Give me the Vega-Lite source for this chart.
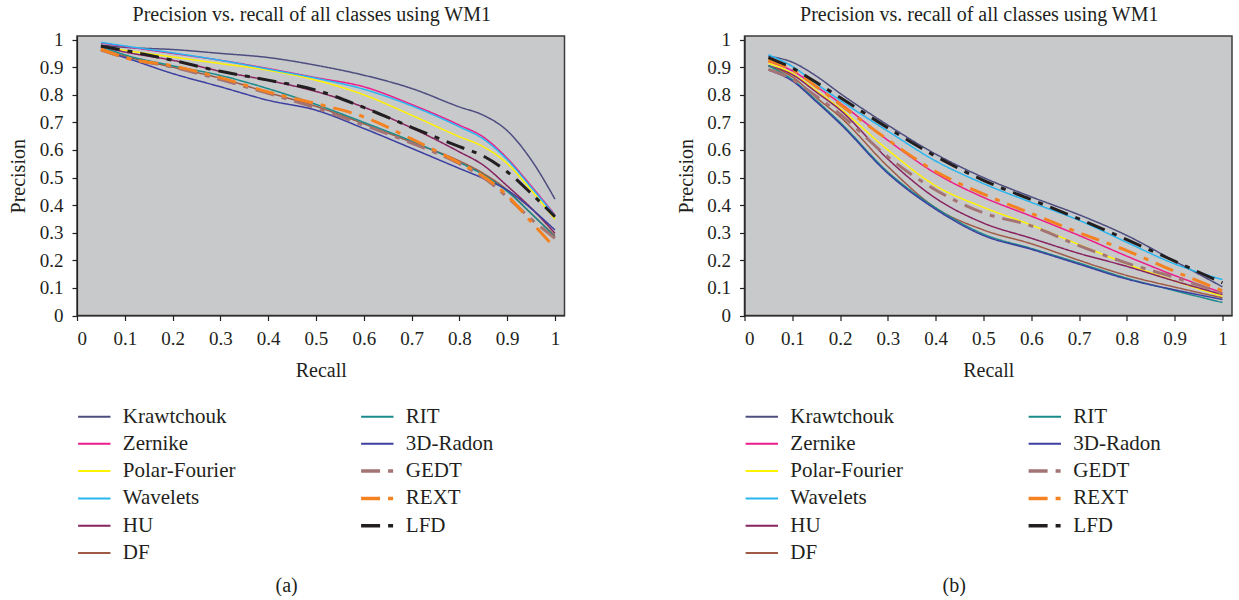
{
  "$schema": "https://vega.github.io/schema/vega-lite/v6.json",
  "background": "white",
  "padding": {"left": 8, "top": 3, "right": 0, "bottom": 0},
  "spacing": 109.5,
  "config": {
    "font": "Liberation Serif",
    "view": {"fill": "#c8c9cb", "stroke": "#3c3c3c", "strokeWidth": 1.5},
    "axis": {"grid": false, "domainColor": "#231f20", "domainWidth": 1.2, "tickColor": "#231f20", "tickSize": 5, "tickWidth": 1.2, "labelFont": "Liberation Serif", "labelFontSize": 19, "labelColor": "#231f20", "labelPadding": 9, "titleFont": "Liberation Serif", "titleFontSize": 20, "titleFontWeight": "normal", "titleColor": "#231f20"},
    "legend": {"labelFont": "Liberation Serif", "labelFontSize": 21, "labelColor": "#231f20", "symbolType": "stroke", "symbolSize": 1050, "symbolStrokeWidth": 2.5, "labelOffset": 18, "rowPadding": 5.3, "columnPadding": 118, "padding": 0, "labelLimit": 300},
    "title": {"font": "Liberation Serif", "fontSize": 20, "fontWeight": "normal", "color": "#231f20"}
  },
  "datasets": {
    "a": [
      {"r": 0.05, "Krawtchouk": 0.98, "Zernike": 0.988, "Polar-Fourier": 0.975, "Wavelets": 0.99, "HU": 0.975, "DF": 0.968, "RIT": 0.975, "3D-Radon": 0.961, "GEDT": 0.962, "REXT": 0.965, "LFD": 0.976},
      {"r": 0.1, "Krawtchouk": 0.972, "Zernike": 0.975, "Polar-Fourier": 0.961, "Wavelets": 0.977, "HU": 0.955, "DF": 0.94, "RIT": 0.945, "3D-Radon": 0.935, "GEDT": 0.935, "REXT": 0.935, "LFD": 0.961},
      {"r": 0.2, "Krawtchouk": 0.964, "Zernike": 0.95, "Polar-Fourier": 0.937, "Wavelets": 0.952, "HU": 0.925, "DF": 0.9, "RIT": 0.905, "3D-Radon": 0.877, "GEDT": 0.9, "REXT": 0.905, "LFD": 0.925},
      {"r": 0.3, "Krawtchouk": 0.95, "Zernike": 0.925, "Polar-Fourier": 0.913, "Wavelets": 0.925, "HU": 0.885, "DF": 0.86, "RIT": 0.87, "3D-Radon": 0.829, "GEDT": 0.855, "REXT": 0.862, "LFD": 0.885},
      {"r": 0.4, "Krawtchouk": 0.935, "Zernike": 0.895, "Polar-Fourier": 0.889, "Wavelets": 0.893, "HU": 0.852, "DF": 0.808, "RIT": 0.822, "3D-Radon": 0.78, "GEDT": 0.805, "REXT": 0.81, "LFD": 0.853},
      {"r": 0.5, "Krawtchouk": 0.907, "Zernike": 0.862, "Polar-Fourier": 0.853, "Wavelets": 0.86, "HU": 0.812, "DF": 0.758, "RIT": 0.765, "3D-Radon": 0.744, "GEDT": 0.752, "REXT": 0.768, "LFD": 0.817},
      {"r": 0.6, "Krawtchouk": 0.871, "Zernike": 0.829, "Polar-Fourier": 0.8, "Wavelets": 0.82, "HU": 0.755, "DF": 0.695, "RIT": 0.7, "3D-Radon": 0.678, "GEDT": 0.69, "REXT": 0.72, "LFD": 0.754},
      {"r": 0.7, "Krawtchouk": 0.823, "Zernike": 0.765, "Polar-Fourier": 0.726, "Wavelets": 0.76, "HU": 0.68, "DF": 0.628, "RIT": 0.632, "3D-Radon": 0.606, "GEDT": 0.625, "REXT": 0.64, "LFD": 0.682},
      {"r": 0.8, "Krawtchouk": 0.756, "Zernike": 0.69, "Polar-Fourier": 0.648, "Wavelets": 0.684, "HU": 0.593, "DF": 0.56, "RIT": 0.555, "3D-Radon": 0.533, "GEDT": 0.55, "REXT": 0.553, "LFD": 0.612},
      {"r": 0.85, "Krawtchouk": 0.726, "Zernike": 0.647, "Polar-Fourier": 0.612, "Wavelets": 0.64, "HU": 0.545, "DF": 0.515, "RIT": 0.51, "3D-Radon": 0.497, "GEDT": 0.5, "REXT": 0.505, "LFD": 0.578},
      {"r": 0.9, "Krawtchouk": 0.67, "Zernike": 0.57, "Polar-Fourier": 0.551, "Wavelets": 0.565, "HU": 0.47, "DF": 0.455, "RIT": 0.45, "3D-Radon": 0.455, "GEDT": 0.43, "REXT": 0.435, "LFD": 0.521},
      {"r": 0.95, "Krawtchouk": 0.565, "Zernike": 0.47, "Polar-Fourier": 0.455, "Wavelets": 0.465, "HU": 0.39, "DF": 0.37, "RIT": 0.37, "3D-Radon": 0.388, "GEDT": 0.35, "REXT": 0.34, "LFD": 0.443},
      {"r": 1.0, "Krawtchouk": 0.422, "Zernike": 0.365, "Polar-Fourier": 0.349, "Wavelets": 0.362, "HU": 0.298, "DF": 0.29, "RIT": 0.285, "3D-Radon": 0.31, "GEDT": 0.28, "REXT": 0.245, "LFD": 0.358}
    ],
    "b": [
      {"r": 0.05, "Krawtchouk": 0.94, "Zernike": 0.92, "Polar-Fourier": 0.915, "Wavelets": 0.945, "HU": 0.905, "DF": 0.905, "RIT": 0.905, "3D-Radon": 0.89, "GEDT": 0.892, "REXT": 0.925, "LFD": 0.935},
      {"r": 0.1, "Krawtchouk": 0.918, "Zernike": 0.887, "Polar-Fourier": 0.877, "Wavelets": 0.903, "HU": 0.873, "DF": 0.865, "RIT": 0.855, "3D-Radon": 0.85, "GEDT": 0.856, "REXT": 0.89, "LFD": 0.897},
      {"r": 0.15, "Krawtchouk": 0.868, "Zernike": 0.83, "Polar-Fourier": 0.815, "Wavelets": 0.84, "HU": 0.81, "DF": 0.79, "RIT": 0.78, "3D-Radon": 0.775, "GEDT": 0.795, "REXT": 0.83, "LFD": 0.845},
      {"r": 0.2, "Krawtchouk": 0.805, "Zernike": 0.77, "Polar-Fourier": 0.75, "Wavelets": 0.78, "HU": 0.745, "DF": 0.72, "RIT": 0.7, "3D-Radon": 0.695, "GEDT": 0.73, "REXT": 0.765, "LFD": 0.79},
      {"r": 0.3, "Krawtchouk": 0.69, "Zernike": 0.635, "Polar-Fourier": 0.6, "Wavelets": 0.668, "HU": 0.567, "DF": 0.54, "RIT": 0.52, "3D-Radon": 0.515, "GEDT": 0.575, "REXT": 0.637, "LFD": 0.68},
      {"r": 0.4, "Krawtchouk": 0.585, "Zernike": 0.515, "Polar-Fourier": 0.47, "Wavelets": 0.56, "HU": 0.425, "DF": 0.39, "RIT": 0.39, "3D-Radon": 0.385, "GEDT": 0.455, "REXT": 0.522, "LFD": 0.577},
      {"r": 0.5, "Krawtchouk": 0.5, "Zernike": 0.428, "Polar-Fourier": 0.392, "Wavelets": 0.478, "HU": 0.335, "DF": 0.31, "RIT": 0.295, "3D-Radon": 0.29, "GEDT": 0.372, "REXT": 0.44, "LFD": 0.49},
      {"r": 0.6, "Krawtchouk": 0.43, "Zernike": 0.36, "Polar-Fourier": 0.328, "Wavelets": 0.41, "HU": 0.28, "DF": 0.26, "RIT": 0.243, "3D-Radon": 0.24, "GEDT": 0.325, "REXT": 0.37, "LFD": 0.42},
      {"r": 0.7, "Krawtchouk": 0.365, "Zernike": 0.29, "Polar-Fourier": 0.257, "Wavelets": 0.345, "HU": 0.225, "DF": 0.2, "RIT": 0.19, "3D-Radon": 0.186, "GEDT": 0.253, "REXT": 0.3, "LFD": 0.35},
      {"r": 0.8, "Krawtchouk": 0.29, "Zernike": 0.215, "Polar-Fourier": 0.187, "Wavelets": 0.265, "HU": 0.178, "DF": 0.145, "RIT": 0.135, "3D-Radon": 0.132, "GEDT": 0.19, "REXT": 0.235, "LFD": 0.275},
      {"r": 0.9, "Krawtchouk": 0.197, "Zernike": 0.145, "Polar-Fourier": 0.125, "Wavelets": 0.187, "HU": 0.125, "DF": 0.103, "RIT": 0.09, "3D-Radon": 0.093, "GEDT": 0.138, "REXT": 0.16, "LFD": 0.197},
      {"r": 1.0, "Krawtchouk": 0.104, "Zernike": 0.082, "Polar-Fourier": 0.07, "Wavelets": 0.13, "HU": 0.076, "DF": 0.064, "RIT": 0.047, "3D-Radon": 0.058, "GEDT": 0.08, "REXT": 0.09, "LFD": 0.118}
    ]
  },
  "resolve": {"scale": {"color": "independent", "strokeDash": "independent"}, "legend": {"color": "independent", "strokeDash": "independent"}},
  "hconcat": [
    {
      "title": {"text": "(a)", "orient": "bottom", "anchor": "middle", "offset": 12, "fontSize": 20},
      "resolve": {"legend": {"color": "independent", "strokeDash": "independent"}},
      "vconcat": [
        {
          "width": 487.5,
          "height": 279.5,
          "title": {"text": "Precision vs. recall of all classes using WM1", "frame": "group", "anchor": "middle", "dx": -9, "offset": 6},
          "data": {"name": "a"},
          "transform": [{"fold": ["Krawtchouk", "Zernike", "Polar-Fourier", "Wavelets", "HU", "DF", "RIT", "3D-Radon", "GEDT", "REXT", "LFD"], "as": ["method", "precision"]}],
          "encoding": {
            "x": {"field": "r", "type": "quantitative", "scale": {"domain": [0, 1.02], "nice": false, "zero": false}, "axis": {"title": "Recall", "values": [0, 0.1, 0.2, 0.3, 0.4, 0.5, 0.6, 0.7, 0.8, 0.9, 1], "format": "~g", "titlePadding": 12}},
            "y": {"field": "precision", "type": "quantitative", "scale": {"domain": [0, 1.013], "nice": false}, "axis": {"title": "Precision", "values": [0, 0.1, 0.2, 0.3, 0.4, 0.5, 0.6, 0.7, 0.8, 0.9, 1], "format": "~g", "titlePadding": 10.5}},
            "color": {"field": "method", "type": "nominal", "scale": {"domain": ["Krawtchouk", "Zernike", "Polar-Fourier", "Wavelets", "HU", "DF", "RIT", "3D-Radon", "GEDT", "REXT", "LFD"], "range": ["#4e4d80", "#ec1c8c", "#fff200", "#29b6f0", "#872360", "#9e5a45", "#1b8a8a", "#3b3fa0", "#a47474", "#f58220", "#231f20"]}, "legend": {"title": null, "orient": "none", "legendX": 6.8, "legendY": 370, "columns": 2, "encode": {"symbols": {"update": {"strokeWidth": {"signal": "indexof(['GEDT','REXT','LFD'], datum.value) >= 0 ? 3.5 : 2"}}}}}},
            "strokeDash": {"field": "method", "type": "nominal", "scale": {"domain": ["Krawtchouk", "Zernike", "Polar-Fourier", "Wavelets", "HU", "DF", "RIT", "3D-Radon", "GEDT", "REXT", "LFD"], "range": [[1, 0], [1, 0], [1, 0], [1, 0], [1, 0], [1, 0], [1, 0], [1, 0], [19, 8, 5, 8], [19, 8, 5, 8], [19, 8, 5, 8]]}, "legend": {"title": null, "orient": "none", "legendX": 6.8, "legendY": 370, "columns": 2, "encode": {"symbols": {"update": {"strokeWidth": {"signal": "indexof(['GEDT','REXT','LFD'], datum.value) >= 0 ? 3.5 : 2"}}}}}}
          },
          "layer": [
            {"transform": [{"filter": {"field": "method", "oneOf": ["Krawtchouk", "Zernike", "Polar-Fourier", "Wavelets", "HU", "DF", "RIT", "3D-Radon"]}}], "mark": {"type": "line", "strokeWidth": 1.5, "interpolate": "monotone"}},
            {"transform": [{"filter": {"field": "method", "oneOf": ["GEDT", "REXT", "LFD"]}}], "mark": {"type": "line", "strokeWidth": 3, "interpolate": "monotone"}}
          ]
        }
      ]
    },
    {
      "title": {"text": "(b)", "orient": "bottom", "anchor": "middle", "offset": 12, "fontSize": 20},
      "resolve": {"legend": {"color": "independent", "strokeDash": "independent"}},
      "vconcat": [
        {
          "width": 487.5,
          "height": 279.5,
          "title": {"text": "Precision vs. recall of all classes using WM1", "frame": "group", "anchor": "middle", "dx": -9, "offset": 6},
          "data": {"name": "b"},
          "transform": [{"fold": ["Krawtchouk", "Zernike", "Polar-Fourier", "Wavelets", "HU", "DF", "RIT", "3D-Radon", "GEDT", "REXT", "LFD"], "as": ["method", "precision"]}],
          "encoding": {
            "x": {"field": "r", "type": "quantitative", "scale": {"domain": [0, 1.02], "nice": false, "zero": false}, "axis": {"title": "Recall", "values": [0, 0.1, 0.2, 0.3, 0.4, 0.5, 0.6, 0.7, 0.8, 0.9, 1], "format": "~g", "titlePadding": 12}},
            "y": {"field": "precision", "type": "quantitative", "scale": {"domain": [0, 1.013], "nice": false}, "axis": {"title": "Precision", "values": [0, 0.1, 0.2, 0.3, 0.4, 0.5, 0.6, 0.7, 0.8, 0.9, 1], "format": "~g", "titlePadding": 10.5}},
            "color": {"field": "method", "type": "nominal", "scale": {"domain": ["Krawtchouk", "Zernike", "Polar-Fourier", "Wavelets", "HU", "DF", "RIT", "3D-Radon", "GEDT", "REXT", "LFD"], "range": ["#4e4d80", "#ec1c8c", "#fff200", "#29b6f0", "#872360", "#9e5a45", "#1b8a8a", "#3b3fa0", "#a47474", "#f58220", "#231f20"]}, "legend": {"title": null, "orient": "none", "legendX": 6.8, "legendY": 370, "columns": 2, "encode": {"symbols": {"update": {"strokeWidth": {"signal": "indexof(['GEDT','REXT','LFD'], datum.value) >= 0 ? 3.5 : 2"}}}}}},
            "strokeDash": {"field": "method", "type": "nominal", "scale": {"domain": ["Krawtchouk", "Zernike", "Polar-Fourier", "Wavelets", "HU", "DF", "RIT", "3D-Radon", "GEDT", "REXT", "LFD"], "range": [[1, 0], [1, 0], [1, 0], [1, 0], [1, 0], [1, 0], [1, 0], [1, 0], [19, 8, 5, 8], [19, 8, 5, 8], [19, 8, 5, 8]]}, "legend": {"title": null, "orient": "none", "legendX": 6.8, "legendY": 370, "columns": 2, "encode": {"symbols": {"update": {"strokeWidth": {"signal": "indexof(['GEDT','REXT','LFD'], datum.value) >= 0 ? 3.5 : 2"}}}}}}
          },
          "layer": [
            {"transform": [{"filter": {"field": "method", "oneOf": ["Krawtchouk", "Zernike", "Polar-Fourier", "Wavelets", "HU", "DF", "RIT", "3D-Radon"]}}], "mark": {"type": "line", "strokeWidth": 1.5, "interpolate": "monotone"}},
            {"transform": [{"filter": {"field": "method", "oneOf": ["GEDT", "REXT", "LFD"]}}], "mark": {"type": "line", "strokeWidth": 3, "interpolate": "monotone"}}
          ]
        }
      ]
    }
  ]
}
